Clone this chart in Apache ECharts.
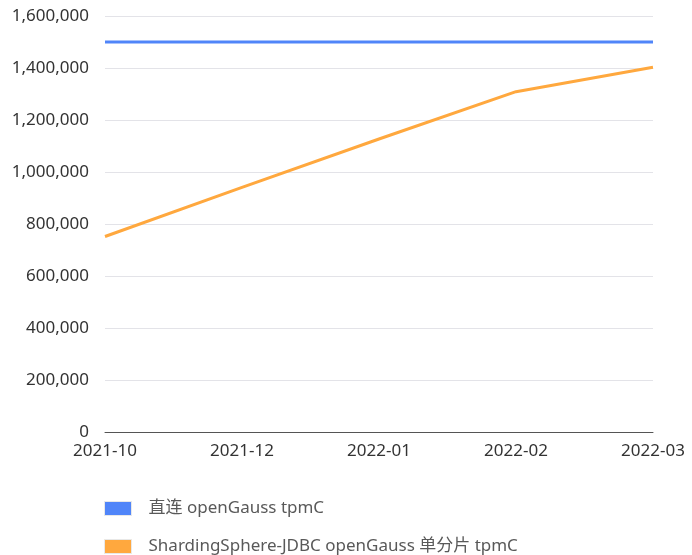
<!DOCTYPE html>
<html>
<head>
<meta charset="utf-8">
<script src="https://cdn.jsdelivr.net/npm/echarts@6/dist/echarts.min.js"></script>
<style>
  html, body { margin: 0; padding: 0; background: #fff; }
  #chart { width: 692px; height: 555px; }
</style>
</head>
<body>
<div id="chart"></div>
<script>
const months = ["2021-10", "2021-12", "2022-01", "2022-02", "2022-03"];
const directTpmc = [1500000, 1500000, 1500000, 1500000, 1500000];
const jdbcTpmc = [752000, 941000, 1127000, 1309000, 1403000];
const seriesNames = ["直连 openGauss tpmC", "ShardingSphere-JDBC openGauss 单分片 tpmC"];
const lineColors = ["#5085f9", "#ffa83e"];

const font = "'Noto Sans', 'Noto Sans CJK SC', sans-serif";
const chart = echarts.init(document.getElementById("chart"));

chart.setOption({
  animation: false,
  textStyle: { fontFamily: font },
  grid: { left: 105, right: 39, top: 16, bottom: 123 },
  legend: {
    orient: "vertical",
    left: 104,
    top: 500,
    padding: 0,
    itemWidth: 27,
    itemHeight: 14,
    itemGap: 21,
    icon: "rect",
    itemStyle: { borderColor: "#e8e8e8", borderWidth: 1 },
    textStyle: {
      color: "#595959",
      fontSize: 17,
      lineHeight: 16,
      fontFamily: font,
      padding: [0, 0, 0, 12],
    },
    data: seriesNames,
  },
  xAxis: {
    type: "category",
    boundaryGap: false,
    data: months,
    axisLine: { lineStyle: { color: "#555", width: 1 } },
    axisTick: { show: false },
    axisLabel: { color: "#333", fontSize: 17, margin: 11, fontFamily: font },
  },
  yAxis: {
    type: "value",
    min: 0,
    max: 1600000,
    interval: 200000,
    axisLine: { show: false },
    axisTick: { show: false },
    splitLine: { lineStyle: { color: "#e3e3e8" } },
    axisLabel: {
      color: "#333",
      fontSize: 17,
      margin: 16,
      fontFamily: font,
      formatter: (v) => v.toLocaleString("en-US"),
    },
  },
  series: [
    {
      name: seriesNames[0],
      type: "line",
      data: directTpmc,
      symbol: "none",
      lineStyle: { color: lineColors[0], width: 3 },
      itemStyle: { color: lineColors[0] },
    },
    {
      name: seriesNames[1],
      type: "line",
      data: jdbcTpmc,
      symbol: "none",
      lineStyle: { color: lineColors[1], width: 3 },
      itemStyle: { color: lineColors[1] },
    },
  ],
});
</script>
</body>
</html>
